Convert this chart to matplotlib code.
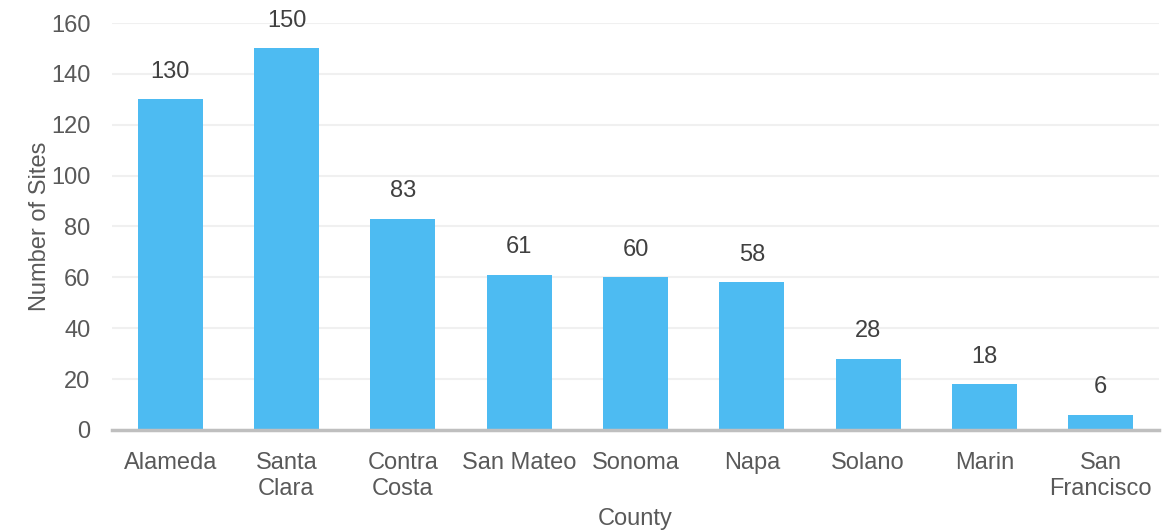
import matplotlib.pyplot as plt

counties = ['Alameda', 'Santa\nClara', 'Contra\nCosta', 'San Mateo', 'Sonoma',
            'Napa', 'Solano', 'Marin', 'San\nFrancisco']
sites = [130, 150, 83, 61, 60, 58, 28, 18, 6]
yticks = [0, 20, 40, 60, 80, 100, 120, 140, 160]

plt.rcParams['font.family'] = ['Liberation Sans', 'DejaVu Sans']

fig = plt.figure(figsize=(11.74, 5.3), dpi=100)
ax = fig.add_axes([0.0954, 0.1887, 0.8918, 0.7679])

x = range(len(counties))
bars = ax.bar(x, sites, width=0.56, color='#4dbbf2', zorder=2)

for xi, v in zip(x, sites):
    ax.text(xi, v + 6.5, str(v), ha='center', va='bottom', fontsize=17, color='#404040')

ax.set_xlim(-0.5, len(counties) - 0.5)
ax.set_ylim(0, 160)
ax.set_yticks(yticks)
ax.set_xticks(list(x))
ax.set_xticklabels(counties, fontsize=17, color='#595959', linespacing=1.2)
ax.tick_params(axis='y', labelsize=17, labelcolor='#595959', length=0, pad=15.5)
ax.tick_params(axis='x', length=0, pad=16)

ax.grid(axis='y', color='#f0f0f0', linewidth=1.5, zorder=0)
for s in ['top', 'right', 'left']:
    ax.spines[s].set_visible(False)
ax.spines['bottom'].set_color('#bfbfbf')
ax.spines['bottom'].set_linewidth(2.5)
ax.spines['bottom'].set_zorder(3)

ax.set_ylabel('Number of Sites', fontsize=17, color='#595959', labelpad=0)
ax.set_xlabel('County', fontsize=17, color='#595959', labelpad=6)

fig.savefig('out.png', dpi=100)
